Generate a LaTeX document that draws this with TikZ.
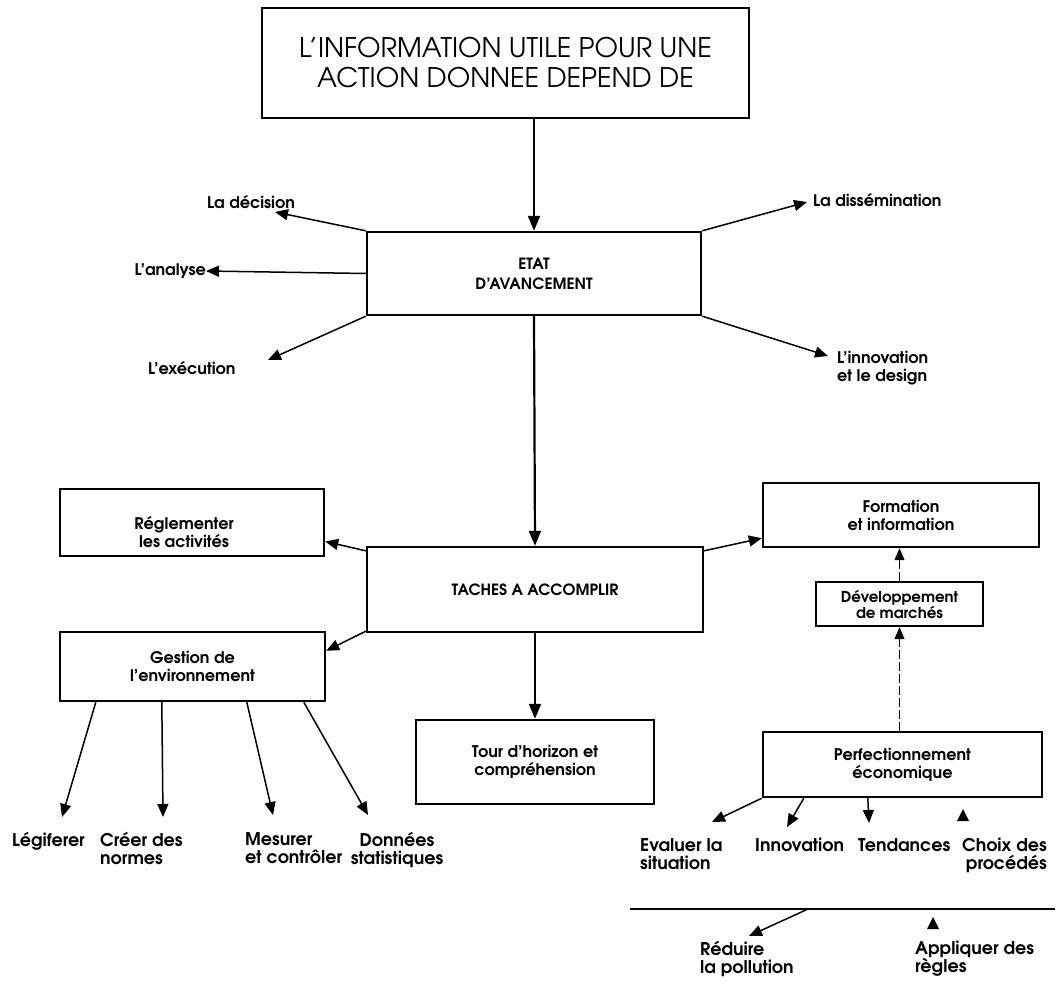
\documentclass[tikz,border=0pt]{standalone}
\usepackage{fontspec}
\setmainfont{TeX Gyre Adventor}
\usetikzlibrary{arrows.meta,calc}
\newcommand\lblfont{\fontsize{16}{18}\selectfont\bfseries}
\newcommand\lowfont{\fontsize{17.5}{18}\selectfont\bfseries}
\newcommand\capfont{\fontsize{15.5}{20}\selectfont\bfseries}
\newcommand\headfont{\fontsize{27}{30}\selectfont}
\begin{document}
\begin{tikzpicture}[x=1pt,y=-1pt,
  box/.style={draw, line width=2.4pt, inner sep=0pt, align=center, font=\lblfont},
  lbl/.style={inner sep=0pt, font=\lblfont},
  low/.style={inner sep=0pt, font=\lowfont},
  mainarr/.style={line width=2.2pt, -{Triangle[length=15pt,width=12pt]}},
  arr/.style={line width=1.5pt, -{Triangle[length=13pt,width=11pt]}},
  darr/.style={line width=1pt, dash pattern=on 9pt off 3pt,
               -{Triangle[length=12pt,width=10pt]}}]
\fill[white] (0,0) rectangle (1058,984);
\useasboundingbox (0,0) rectangle (1058,984);

% boxes
\node[box, minimum width=487, minimum height=110, font=\headfont] (top) at (505.5,63)
  {L’INFORMATION UTILE POUR UNE\\ACTION DONNEE DEPEND DE};
\node[box, minimum width=334, minimum height=83, font=\capfont] (etat) at (534,273.5)
  {ETAT\\D’AVANCEMENT};
\node[box, minimum width=336, minimum height=85, font=\capfont] (taches) at (535,589.5)
  {TACHES A ACCOMPLIR};
\node[box, minimum width=264, minimum height=67] (regl) at (192,522.5) {};
\node[lbl, align=center] (reglt) at ($(regl.center)+(-8,10)$) {Réglementer\\les activités};
\node[box, minimum width=265, minimum height=69] (gest) at (192.5,666.5)
  {Gestion de\\l’environnement};
\node[box, minimum width=238, minimum height=84] (tour) at (535,762)
  {Tour d’horizon et\\compréhension};
\node[box, minimum width=276, minimum height=64] (form) at (901,515)
  {Formation\\et information};
\node[box, minimum width=167, minimum height=44, font=\fontsize{15}{15}\selectfont\bfseries] (dev) at (899.5,604)
  {Développement\\de marchés};
\node[box, minimum width=279, minimum height=65] (perf) at (902.5,764.5)
  {Perfectionnement\\économique};

% main flow
\draw[mainarr] (top.south -| etat.north) -- (etat.north);
\draw[mainarr] (etat.south) -- (taches.north);
\draw[mainarr] (taches.south) -- (tour.north);

% labels around the progress box
\node[lbl, anchor=west] (dec) at (207,202) {La décision};
\node[lbl, anchor=east] (ana) at (206,271) {L’analyse};
\node[lbl, anchor=west] (exe) at (148,368) {L’exécution};
\node[lbl, anchor=west] (dis) at (813,200) {La dissémination};
\node[lbl, anchor=west, align=left] (inn) at (837,368) {L’innovation\\et le design};
\coordinate (tdec) at (275,212);
\coordinate (texe) at (268,360);
\coordinate (tdis) at (807,202);
\coordinate (tinn) at (828,356);
\draw[arr] (etat.north west) -- (tdec);
\draw[arr] (etat.west) -- (ana.east);
\draw[arr] (etat.south west) -- (texe);
\draw[arr] (etat.north east) -- (tdis);
\draw[arr] (etat.south east) -- (tinn);

% tasks
\draw[arr] ($(taches.north west)+(0,5)$) -- ($(regl.east)+(0,19)$);
\draw[arr] ($(taches.south west)+(0,-2)$) -- ($(gest.north east)+(0,20)$);
\draw[arr] ($(taches.north east)+(0,5)$) -- ($(form.south west)+(0,-10)$);

% environment management
\node[low, anchor=north west] (leg) at (12,832) {Légiferer};
\node[low, anchor=north west, align=left] (creer) at (100,832) {Créer des\\normes};
\node[low, anchor=north west, align=left] (mes) at (245,832) {Mesurer\\et contrôler};
\node[low, anchor=north, align=center] (don) at (397,832) {Données\\statistiques};
\coordinate (tleg) at (62,817);
\coordinate (tcre) at (163,817);
\coordinate (tmes) at (273,815);
\coordinate (tdon) at (368,815);
\draw[arr] ($(gest.south west)+(37,0)$) -- (tleg);
\draw[arr] ($(gest.south west)+(103,0)$) -- (tcre);
\draw[arr] ($(gest.south west)+(188,0)$) -- (tmes);
\draw[arr] ($(gest.south west)+(245,0)$) -- (tdon);

% economic improvement
\draw[darr] (dev.north) -- (dev.north |- form.south);
\draw[darr] (perf.north -| dev.south) -- (dev.south);
\node[low, anchor=north west, align=left] (eval) at (640,838) {Evaluer la\\situation};
\node[low, anchor=north west] (innov) at (755,838) {Innovation};
\node[low, anchor=north west] (tend) at (858,838) {Tendances};
\node[low, anchor=north east, align=right] (choix) at (1047,838) {Choix des\\procédés};
\coordinate (teval) at (712,822);
\coordinate (tinv) at (787,827);
\coordinate (ttend) at (869,823);
\draw[arr] (perf.south west) -- (teval);
\draw[arr] ($(perf.south west)+(42,0)$) -- (tinv);
\draw[arr] ($(perf.south west)+(106,0)$) -- (ttend);
\fill (957,821) -- (969,821) -- (963,809) -- cycle;

% separator and lower items
\coordinate (hL) at (630,909);
\coordinate (hR) at (1055,909);
\draw[line width=2pt] (hL) -- (hR);
\coordinate (hA) at (808,909);
\coordinate (tred) at (749,936);
\draw[arr] (hA) -- (tred);
\fill (927,929) -- (939,929) -- (933,917) -- cycle;
\node[low, anchor=north west, align=left] (red) at (700,941) {Réduire\\la pollution};
\node[low, anchor=north west, align=left] (app) at (915,941) {Appliquer des\\règles};
\end{tikzpicture}
\end{document}
